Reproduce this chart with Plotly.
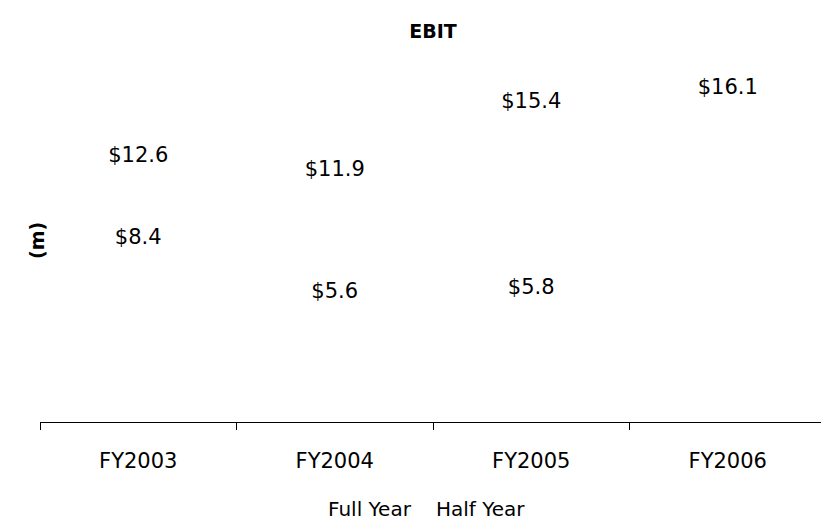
import plotly.graph_objects as go

categories = ["FY2003", "FY2004", "FY2005", "FY2006"]
full_year = [12.6, 11.9, 15.4, 16.1]
half_year = [8.4, 5.6, 5.8, None]
series_names = ["Full Year", "Half Year"]

FONT = "DejaVu Sans"
OFF = 8  # page body margin

def fmt(vals):
    return ["" if v is None else f"${v:.1f}" for v in vals]

W, H = 829 - OFF, 522 - OFF
PL, PR, PT, PB = 40 - OFF, 826 - OFF, 60 - OFF, 422 - OFF
PW, PH = PR - PL, PB - PT

fig = go.Figure()
for name, vals in zip(series_names, [full_year, half_year]):
    fig.add_trace(go.Scatter(
        x=categories, y=vals, name=name, mode="lines+text",
        line=dict(color="rgba(0,0,0,0)", width=1),
        text=fmt(vals), textposition="middle center",
        textfont=dict(family=FONT, size=21, color="black"),
        cliponaxis=False, hoverinfo="skip", showlegend=False,
    ))

legend_x = [326, 434]
legend_notes = [
    dict(text=name, xref="paper", yref="paper",
         x=(lx - 40) / PW, y=-(509 - 422) / PH, xanchor="left", yanchor="middle",
         showarrow=False, font=dict(family=FONT, size=20, color="black"))
    for name, lx in zip(series_names, legend_x)
]

fig.update_layout(
    width=W, height=H,
    margin=dict(l=PL, r=W - PR, t=PT, b=H - PB, autoexpand=False),
    paper_bgcolor="white", plot_bgcolor="white",
    title=dict(text="<b>EBIT</b>", x=0.5, xref="paper", xanchor="center",
               y=1 - (31 - OFF) / H, yref="container", yanchor="middle",
               font=dict(family=FONT, size=19, color="black")),
    xaxis=dict(
        type="category", categoryorder="array", categoryarray=categories,
        showline=True, linecolor="black", linewidth=1,
        ticks="outside", tickson="boundaries", ticklen=7, tickcolor="black",
        showgrid=False, zeroline=False, ticklabelstandoff=20,
        tickfont=dict(family=FONT, size=21, color="black"),
        range=[-0.5, 3.5], automargin=False,
    ),
    yaxis=dict(
        range=[-1.04, 17.59], visible=False, showgrid=False, zeroline=False,
    ),
    showlegend=False,
    annotations=[
        dict(text="<b>(m)</b>", textangle=-90, xref="paper", yref="paper",
             x=(37 - 40) / PW, y=(422 - 241) / PH, xanchor="center", yanchor="middle",
             showarrow=False, font=dict(family=FONT, size=19, color="black")),
    ] + legend_notes,
)

fig.write_html("out.html")
